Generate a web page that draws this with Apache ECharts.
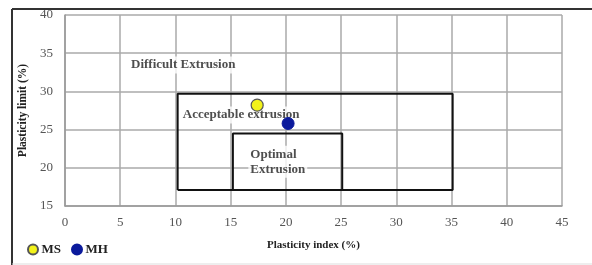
<!DOCTYPE html>
<html>
<head>
<meta charset="utf-8">
<script src="https://cdn.jsdelivr.net/npm/echarts@6/dist/echarts.min.js"></script>
<style>
  html, body { margin: 0; padding: 0; background: #fff; }
  #chart { width: 592px; height: 265px; }
</style>
</head>
<body>
<div id="chart"></div>
<script>
// samples (plasticity index, plasticity limit)
const msPoint = [17.4, 28.2];
const mhPoint = [20.2, 25.8];

// zone boxes: [xMin, xMax], [yMin, yMax]
const acceptableX = [10.2, 35.1];
const acceptableY = [17.1, 29.7];
const optimalX = [15.2, 25.1];
const optimalY = [17.1, 24.5];

// zone notes
const noteText = ["Difficult Extrusion", "Acceptable extrusion", "Optimal\nExtrusion"];
const noteX = [10.7, 15.95, 16.6];
const noteY = [33.45, 26.9, 20.8];
const noteAlign = ["center", "center", "left"];

const serif = "Liberation Serif";

function boxPath(xs, ys) {
    return [
        [xs[0], ys[0]], [xs[1], ys[0]], [xs[1], ys[1]], [xs[0], ys[1]], [xs[0], ys[0]]
    ];
}

const chart = echarts.init(document.getElementById("chart"), null, { renderer: "canvas" });

const notes = noteText.map(function (t, i) {
    return {
        value: [noteX[i], noteY[i]],
        label: { formatter: t, align: noteAlign[i] }
    };
});

const option = {
    animation: false,
    backgroundColor: "#fff",
    grid: { left: 65, right: 30, top: 15, bottom: 59 },
    graphic: [
        { type: "line", shape: { x1: 12, y1: 9, x2: 592, y2: 9 }, style: { stroke: "#333", lineWidth: 2 } },
        { type: "line", shape: { x1: 12, y1: 9, x2: 12, y2: 265 }, style: { stroke: "#333", lineWidth: 2 } },
        { type: "line", shape: { x1: 12, y1: 264, x2: 592, y2: 264 }, style: { stroke: "#ddd", lineWidth: 1 } }
    ],
    legend: {
        left: 22,
        top: 238,
        itemGap: 10,
        itemWidth: 13,
        itemHeight: 10,
        icon: "circle",
        data: ["MS", "MH"],
        textStyle: { fontFamily: serif, fontWeight: "bold", fontSize: 13, color: "#222", padding: [0, 0, 0, -3] }
    },
    xAxis: {
        type: "value",
        min: 0, max: 45, interval: 5,
        name: "Plasticity index (%)",
        nameLocation: "middle",
        nameGap: 34,
        nameTextStyle: { fontFamily: serif, fontWeight: "bold", fontSize: 11, color: "#222" },
        axisLine: { show: true, lineStyle: { color: "#999", width: 1.5 } },
        axisTick: { show: false },
        axisLabel: { fontFamily: serif, fontSize: 13, color: "#555", margin: 10 },
        splitLine: { show: true, lineStyle: { color: "#aaa", width: 1.5 } }
    },
    yAxis: {
        type: "value",
        min: 15, max: 40, interval: 5,
        name: "Plasticity limit (%)",
        nameLocation: "middle",
        nameGap: 31,
        nameTextStyle: { fontFamily: serif, fontWeight: "bold", fontSize: 11.5, color: "#222" },
        axisLine: { show: true, lineStyle: { color: "#999", width: 1.5 } },
        axisTick: { show: false },
        axisLabel: { fontFamily: serif, fontSize: 13, color: "#555", margin: 12 },
        splitLine: { show: true, lineStyle: { color: "#aaa", width: 1.5 } }
    },
    series: [
        {
            name: "Acceptable",
            type: "line",
            data: boxPath(acceptableX, acceptableY),
            symbol: "none",
            lineStyle: { color: "#111", width: 2 },
            z: 3
        },
        {
            name: "Optimal",
            type: "line",
            data: boxPath(optimalX, optimalY),
            symbol: "none",
            lineStyle: { color: "#111", width: 2 },
            z: 3
        },
        {
            name: "notes",
            type: "scatter",
            symbolSize: 0,
            data: notes,
            label: {
                show: true,
                position: "inside",
                fontFamily: serif,
                fontWeight: "bold",
                fontSize: 13,
                lineHeight: 15,
                color: "#222",
                backgroundColor: "#fff",
                padding: [1, 2]
            },
            z: 4
        },
        {
            name: "MS",
            type: "scatter",
            data: [msPoint],
            symbolSize: 12,
            itemStyle: { color: "#f2f21a", borderColor: "#555", borderWidth: 1.2, opacity: 1 },
            z: 6
        },
        {
            name: "MH",
            type: "scatter",
            data: [mhPoint],
            symbolSize: 12,
            itemStyle: { color: "#0b1a9c", borderColor: "#0b1a9c", borderWidth: 1, opacity: 1 },
            z: 6
        }
    ]
};

chart.setOption(option);
</script>
</body>
</html>
